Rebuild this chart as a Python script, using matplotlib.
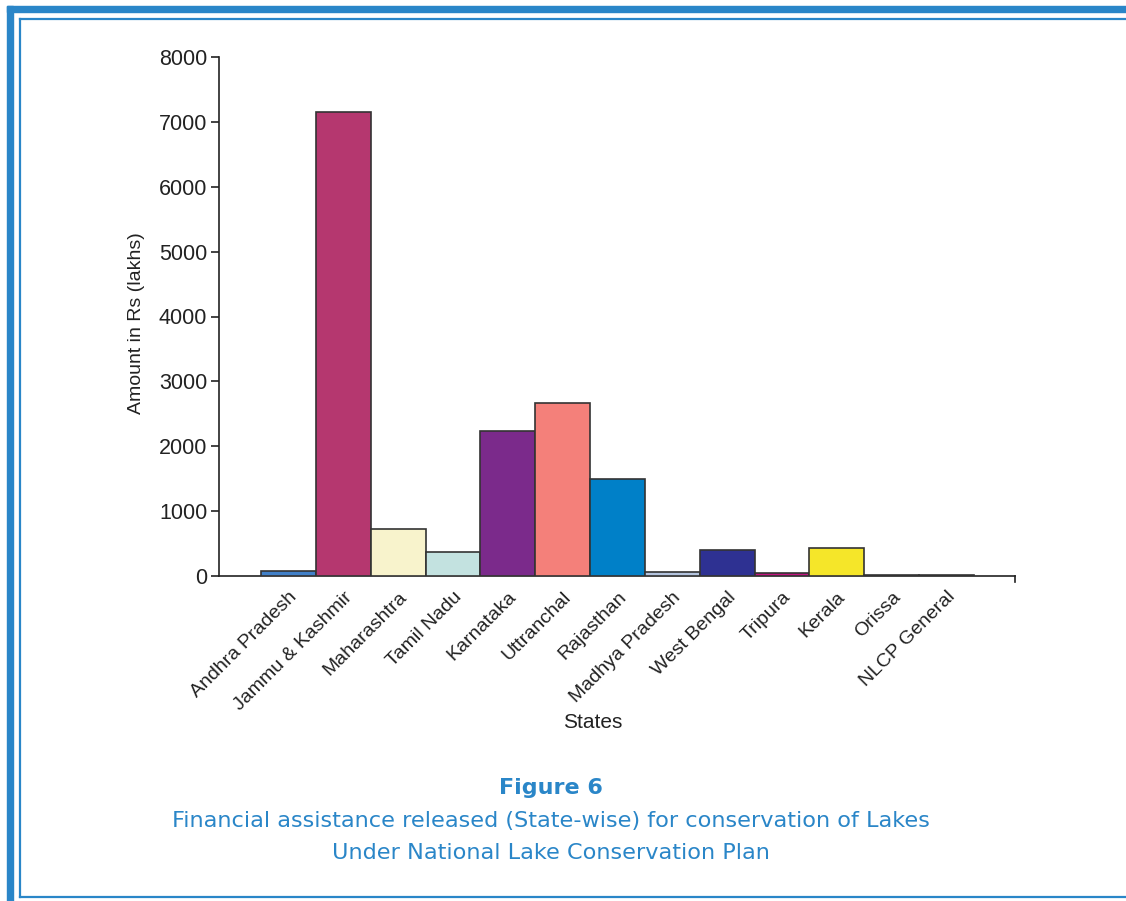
import matplotlib
matplotlib.use("Agg")
import matplotlib.pyplot as plt
from matplotlib.lines import Line2D
from matplotlib.patches import Rectangle

# Funds released per state (Rs lakhs)
states = ["Andhra Pradesh", "Jammu & Kashmir", "Maharashtra", "Tamil Nadu",
          "Karnataka", "Uttranchal", "Rajasthan", "Madhya Pradesh",
          "West Bengal", "Tripura", "Kerala", "Orissa", "NLCP General"]
amounts = [80, 7150, 720, 370, 2240, 2660, 1500, 60, 400, 45, 430, 20, 12]
bar_colors = ["#4180c8", "#b5376f", "#f8f3cc", "#c3e2e0", "#7b2a8b", "#f4807a",
              "#0080c8", "#b4c4df", "#2e3192", "#c2147f", "#f5e629", "#2a2a2a",
              "#2a2a2a"]
y_ticks = [0, 1000, 2000, 3000, 4000, 5000, 6000, 7000, 8000]

BLUE = "#2a86c8"
INK = "#222222"
AXIS_FONT = ["Liberation Sans", "DejaVu Sans"]

fig = plt.figure(figsize=(11.26, 9.01), dpi=100)
ax = fig.add_axes([219 / 1126, 1 - 576 / 901, (1015 - 219) / 1126, (576 - 57) / 901])

x = list(range(len(states)))
ax.bar(x, amounts, width=1.0, color=bar_colors, edgecolor="#333333",
       linewidth=1.2, zorder=3)

ax.set_xlim(-1.27, 13.25)
ax.set_ylim(0, 8000)
ax.set_yticks(y_ticks)
ax.set_yticklabels([str(v) for v in y_ticks], family=AXIS_FONT, fontsize=15.5)
ax.set_xticks(x)
ax.set_xticklabels(states, rotation=45, ha="right", rotation_mode="anchor",
                   family=AXIS_FONT, fontsize=14)
ax.tick_params(axis="x", length=0, pad=9, labelcolor=INK)
ax.tick_params(axis="y", length=6, width=1.2, color=INK, pad=2.5,
               labelcolor=INK)

for side in ("top", "right"):
    ax.spines[side].set_visible(False)
for side in ("left", "bottom"):
    ax.spines[side].set_linewidth(1.2)
    ax.spines[side].set_color(INK)

# small closing tick at the right end of the category axis
ax.plot([1, 1], [0, -0.012], transform=ax.transAxes, color=INK,
        linewidth=1.2, clip_on=False)

ax.set_ylabel("Amount in Rs (lakhs)", family=AXIS_FONT, fontsize=14, color=INK)
ax.yaxis.set_label_coords(-0.093, 0.4875)
ax.set_xlabel("States", family=AXIS_FONT, fontsize=15, color=INK)
ax.xaxis.set_label_coords(0.47, -0.264)

# caption
fig.text(551 / 1126, 1 - 788 / 901, "Figure 6", color=BLUE, fontsize=16,
         fontweight="bold", ha="center", va="center", family="DejaVu Sans")
fig.text(551 / 1126, 1 - 821 / 901,
         "Financial assistance released (State-wise) for conservation of Lakes",
         color=BLUE, fontsize=16.1, ha="center", va="center", family="DejaVu Sans")
fig.text(551 / 1126, 1 - 853 / 901, "Under National Lake Conservation Plan",
         color=BLUE, fontsize=16.1, ha="center", va="center", family="DejaVu Sans")

# page frame: thick outer bars and thin inner rule
W, H = 1126, 901
fig.patches.append(Rectangle((7 / W, 1 - 12 / H), 1, 6 / H, transform=fig.transFigure,
                             color=BLUE, zorder=0))
fig.patches.append(Rectangle((7 / W, 0), 6 / W, 1 - 6 / H, transform=fig.transFigure,
                             color=BLUE, zorder=0))
fig.lines.append(Line2D([19.5 / W, 1], [1 - 18.5 / H, 1 - 18.5 / H],
                        transform=fig.transFigure, color=BLUE, linewidth=1.6))
fig.lines.append(Line2D([19.5 / W, 19.5 / W], [1 - 18.5 / H, 1 - 897 / H],
                        transform=fig.transFigure, color=BLUE, linewidth=1.6))
fig.lines.append(Line2D([19.5 / W, 1], [1 - 897 / H, 1 - 897 / H],
                        transform=fig.transFigure, color=BLUE, linewidth=1.6))

fig.savefig("out.png", dpi=100)
